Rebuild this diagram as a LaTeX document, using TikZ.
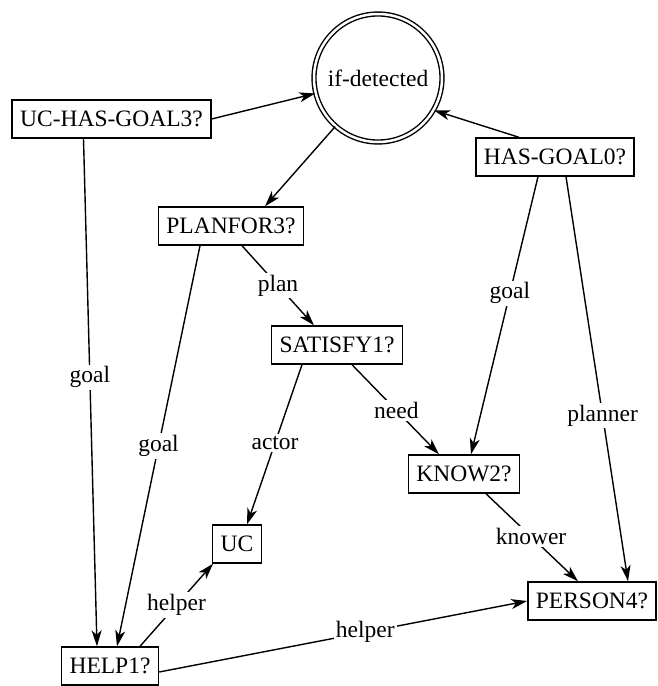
\documentclass[tikz,border=0pt]{standalone}
\usepackage{fontspec}
\setmainfont{Liberation Serif}
\usetikzlibrary{arrows.meta}
\begin{document}
\begin{tikzpicture}[x=1pt,y=-1pt,
  txt/.style={font=\fontsize{23.5}{28}\selectfont},
  box/.style={txt, draw, line width=1.4pt, minimum height=38pt, inner xsep=8pt, inner ysep=0pt},
  ring/.style={txt, circle, draw, double, double distance=2.5pt, line width=1.4pt, minimum size=128pt, inner sep=0pt},
  lbl/.style={txt, fill=white, inner sep=2pt},
  link/.style={line width=1.4pt, -{Stealth[length=16pt,width=10pt,inset=4.5pt]}}]
\useasboundingbox (0,0) rectangle (657,686);
\node[ring] (circ) at (378,78) {if-detected};
\node[box] (ucg) at (111.5,119) {UC-HAS-GOAL3?};
\node[box] (hg0) at (555,157) {HAS-GOAL0?};
\node[box] (pf3) at (231,226) {PLANFOR3?};
\node[box] (sat) at (337,345) {SATISFY1?};
\node[box] (kn2) at (464,474) {KNOW2?};
\node[box] (uc) at (237,544) {UC};
\node[box] (p4) at (592,601) {PERSON4?};
\node[box] (h1) at (110,666) {HELP1?};

\draw[link] (ucg.east) -- (circ);
\draw[link] ([xshift=-36pt]hg0.north) -- (circ.-30);
\draw[link] (circ) -- ([xshift=34pt]pf3.north);
\draw[link] ([xshift=11pt]pf3.south) -- node[lbl,pos=0.5] {plan} ([xshift=-23pt]sat.north);
\draw[link] ([xshift=-31pt]pf3.south) -- node[lbl,pos=0.5] {goal} ([xshift=7pt]h1.north);
\draw[link] ([xshift=-28pt]ucg.south) -- node[lbl,pos=0.47] {goal} ([xshift=-13pt]h1.north);
\draw[link] ([xshift=-35pt]sat.south) -- node[lbl,pos=0.49] {actor} ([xshift=10pt]uc.north);
\draw[link] ([xshift=15pt]sat.south) -- node[lbl,pos=0.51] {need} ([xshift=-25pt]kn2.north);
\draw[link] ([xshift=-17pt]hg0.south) -- node[lbl,pos=0.42] {goal} ([xshift=7pt]kn2.north);
\draw[link] ([xshift=11pt]hg0.south) -- node[lbl,pos=0.59] {planner} ([xshift=36pt]p4.north);
\draw[link] ([xshift=22pt]kn2.south) -- node[lbl,pos=0.49] {knower} ([xshift=-14pt]p4.north);
\draw[link] ([xshift=30pt]h1.north) -- node[lbl,pos=0.5] {helper} ([xshift=-24pt]uc.south);
\draw[link] ([yshift=-6pt]h1.east) -- node[lbl,pos=0.56] {helper} (p4.west);
\end{tikzpicture}
\end{document}
